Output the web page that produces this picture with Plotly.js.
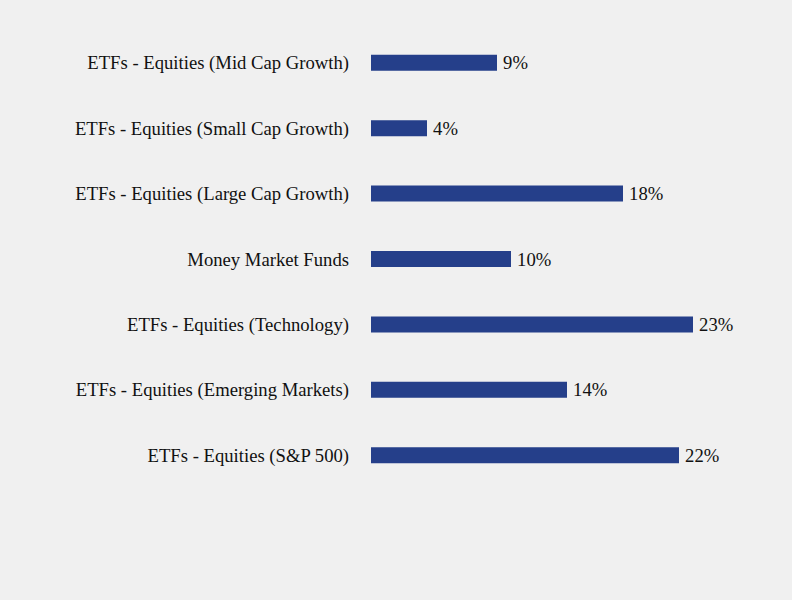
<!DOCTYPE html>
<html><head><meta charset="utf-8">
<script src="https://cdn.plot.ly/plotly-3.0.1.min.js"></script>
<style>html,body{margin:0;padding:0;background:#f0f0f0}</style>
</head><body><div id="chart" style="width:792px;height:600px"></div>
<script>
const categories = ["ETFs - Equities (S&P 500)","ETFs - Equities (Emerging Markets)","ETFs - Equities (Technology)","Money Market Funds","ETFs - Equities (Large Cap Growth)","ETFs - Equities (Small Cap Growth)","ETFs - Equities (Mid Cap Growth)"];
const values = [22,14,23,10,18,4,9];
const labels = values.map(v => "\u2006" + v + "%");
const font = {family: "Liberation Serif, Times New Roman, serif", size: 18.67, color: "#111"};
Plotly.newPlot("chart", [{
  type: "bar", orientation: "h", x: values, y: categories,
  text: labels, textposition: "outside", cliponaxis: false, constraintext: "none",
  textfont: font, marker: {color: "#253f8a"}, width: 0.245, hoverinfo: "none"
}], {
  width: 792, height: 600, paper_bgcolor: "#f0f0f0", plot_bgcolor: "#f0f0f0",
  margin: {l: 371, r: 21, t: 30, b: 112},
  font: font, showlegend: false, uniformtext: {mode: false},
  xaxis: {range: [0, 400/14], visible: false, fixedrange: true},
  yaxis: {type: "category", showgrid: false, zeroline: false, showline: false, ticks: "", ticklabelstandoff: 21, tickfont: font, fixedrange: true}
}, {displayModeBar: false, staticPlot: true});
</script></body></html>
